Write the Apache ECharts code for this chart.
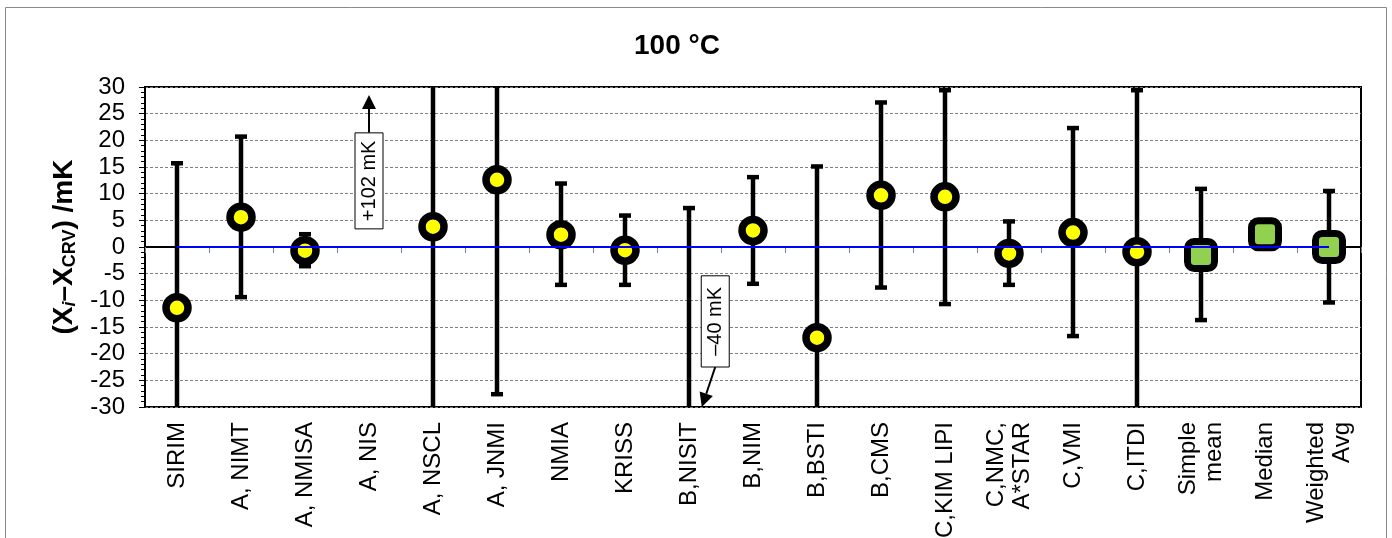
<!DOCTYPE html>
<html>
<head>
<meta charset="utf-8">
<script src="https://cdn.jsdelivr.net/npm/echarts@6/dist/echarts.min.js"></script>
<style>html,body{margin:0;padding:0;background:#fff}#chart{width:1392px;height:538px}</style>
</head>
<body>
<div id="chart"></div>
<script>
// participants + summary statistics
var categories = ['SIRIM', 'A, NIMT', 'A, NMISA', 'A, NIS', 'A, NSCL', 'A, JNMI', 'NMIA', 'KRISS', 'B,NISIT', 'B,NIM',
    'B,BSTI', 'B,CMS', 'C,KIM LIPI', 'C,NMC,\nA*STAR', 'C,VMI', 'C,ITDI', 'Simple\nmean', 'Median', 'Weighted\nAvg'];
var summaryNames = ['Simple\nmean', 'Median', 'Weighted\nAvg'];
// Xi - Xcrv in mK
var values = [-11.4, 5.6, -0.7, 102, 3.8, 12.6, 2.3, -0.6, -40, 3.1, -17.0, 9.7, 9.4, -1.2, 2.7, -0.9, -1.5, 2.4, 0.0];
// error bar ends (mK), null = none
var upper = [15.7, 20.7, 2.4, null, 43.8, 52.8, 11.9, 5.9, 7.3, 13.1, 15.1, 27.1, 29.4, 4.8, 22.3, 29.4, 10.9, null, 10.5];
var lower = [-38.5, -9.4, -3.6, null, -36.2, -27.6, -7.1, -7.1, -87.3, -6.9, -49.1, -7.6, -10.7, -7.1, -16.7, -31.2, -13.7, null, -10.4];
var refValue = 0;
var yTicks = { min: -30, max: 30, step: 5 };
// off-scale notes
var notes = [
    { cat: 'A, NIS', text: '+102 mK', boxTop: 21.4, boxBottom: 3.4, tip: 28.5, shift: 0, tipShift: 0 },
    { cat: 'B,NISIT', text: '\u201340 mK', boxTop: -5.4, boxBottom: -22.5, tip: -30, shift: 0.41, tipShift: 0.2 }
];

var labPts = [], sumPts = [], bars = [];
categories.forEach(function (c, i) {
    if (summaryNames.indexOf(c) >= 0) sumPts.push([i, values[i]]);
    else labPts.push([i, values[i]]);
    if (upper[i] != null) bars.push([i, upper[i], lower[i]]);
});

var chart = echarts.init(document.getElementById('chart'));
var font = 'Arial, "Liberation Sans", sans-serif';

chart.setOption({
    animation: false,
    title: {
        text: '100 \u00b0C',
        left: 672,
        top: 27,
        textAlign: 'center',
        textStyle: { fontFamily: font, fontSize: 28, fontWeight: 'bold', color: '#000' }
    },
    graphic: [{
        type: 'rect',
        shape: { x: 5.5, y: 7.5, width: 1381, height: 560 },
        style: { fill: null, stroke: '#888', lineWidth: 1 },
        silent: true
    }],
    grid: {
        left: 145, right: 31, top: 87, bottom: 131,
        outerBoundsMode: 'none',
        containLabel: false,
        show: true, borderColor: '#000', borderWidth: 2
    },
    xAxis: {
        type: 'category',
        data: categories,
        boundaryGap: true,
        axisLine: { lineStyle: { color: '#000', width: 2 } },
        axisTick: { show: true, interval: 0, length: 6, lineStyle: { color: '#808080' } },
        axisLabel: {
            interval: 0, rotate: 90, margin: 15, color: '#000',
            fontFamily: font, fontSize: 24, lineHeight: 26
        },
        splitLine: { show: false }
    },
    yAxis: {
        type: 'value',
        min: yTicks.min, max: yTicks.max, interval: yTicks.step,
        name: '{b|(X}{i|i}{b|\u2013X}{s|CRV}{b|) /mK}',
        nameLocation: 'middle',
        nameGap: 62,
        nameTextStyle: {
            rich: {
                b: { fontFamily: font, fontSize: 28, fontWeight: 'bold', color: '#000' },
                i: { fontFamily: font, fontSize: 18, fontWeight: 'bold', fontStyle: 'italic', color: '#000', verticalAlign: 'bottom', padding: [12, 0, 0, 0] },
                s: { fontFamily: font, fontSize: 18, fontWeight: 'bold', color: '#000', verticalAlign: 'bottom', padding: [12, 0, 0, 0] }
            }
        },
        axisLine: { show: true, lineStyle: { color: '#000', width: 2 } },
        axisTick: { show: true, length: 6, lineStyle: { color: '#000' } },
        minorTick: { show: true, splitNumber: 5, length: 4, lineStyle: { color: '#000' } },
        axisLabel: { color: '#000', fontFamily: font, fontSize: 24, margin: 20 },
        splitLine: { show: true, lineStyle: { color: '#808080', type: [3, 2], width: 1 } }
    },
    series: [
        {
            name: 'reference',
            type: 'line',
            data: [],
            z: 2,
            markLine: {
                silent: true,
                symbol: 'none',
                label: { show: false },
                lineStyle: { color: '#0000ff', width: 2, type: 'solid' },
                data: [[{ coord: [0, refValue] }, { coord: [categories.length - 1, refValue] }]]
            }
        },
        {
            name: 'uncertainty',
            type: 'custom',
            clip: true,
            z: 3,
            data: bars,
            encode: { x: 0, y: [1, 2] },
            renderItem: function (params, api) {
                var x = api.value(0);
                var p1 = api.coord([x, api.value(1)]);
                var p2 = api.coord([x, api.value(2)]);
                var cap = 6;
                var st = { stroke: '#000', lineWidth: 4.5 };
                return {
                    type: 'group',
                    children: [
                        { type: 'line', shape: { x1: p1[0], y1: p1[1], x2: p2[0], y2: p2[1] }, style: st },
                        { type: 'line', shape: { x1: p1[0] - cap, y1: p1[1], x2: p1[0] + cap, y2: p1[1] }, style: st },
                        { type: 'line', shape: { x1: p2[0] - cap, y1: p2[1], x2: p2[0] + cap, y2: p2[1] }, style: st }
                    ]
                };
            }
        },
        {
            name: 'labs',
            type: 'scatter',
            clip: true,
            z: 4,
            data: labPts,
            symbol: 'circle',
            symbolSize: 22,
            itemStyle: { color: '#ffff00', borderColor: '#000', borderWidth: 7.5, opacity: 1 }
        },
        {
            name: 'summary',
            type: 'scatter',
            clip: true,
            z: 4,
            data: sumPts,
            symbol: 'roundRect',
            symbolSize: 27,
            itemStyle: { color: '#92d050', borderColor: '#000', borderWidth: 7, opacity: 1 }
        },
        {
            name: 'notes',
            type: 'custom',
            z: 5,
            data: notes.map(function (n) { return [categories.indexOf(n.cat), n.boxTop]; }),
            renderItem: function (params, api) {
                var n = notes[params.dataIndex];
                var c = api.coord([api.value(0), 0]);
                var bw = api.size([1, 0])[0];
                var cx = c[0] + n.shift * bw;
                var tx = c[0] + n.tipShift * bw;
                var yTop = api.coord([0, n.boxTop])[1];
                var yBot = api.coord([0, n.boxBottom])[1];
                var yTip = api.coord([0, n.tip])[1];
                var w = 28;
                var sx = cx, sy = n.tip > n.boxTop ? yTop : yBot;
                var dx = tx - sx, dy = yTip - sy;
                var len = Math.sqrt(dx * dx + dy * dy), ux = dx / len, uy = dy / len;
                var hl = 14, hw = 7;
                var bx = tx - ux * hl, by = yTip - uy * hl;
                return {
                    type: 'group',
                    children: [
                        { type: 'line', shape: { x1: sx, y1: sy, x2: bx, y2: by }, style: { stroke: '#000', lineWidth: 2 } },
                        { type: 'polygon', shape: { points: [[tx, yTip], [bx - uy * hw, by + ux * hw], [bx + uy * hw, by - ux * hw]] }, style: { fill: '#000' } },
                        { type: 'rect', shape: { x: cx - w / 2, y: yTop, width: w, height: yBot - yTop }, style: { fill: '#fff', stroke: '#000', lineWidth: 1 } },
                        {
                            type: 'text', x: cx, y: (yTop + yBot) / 2, rotation: Math.PI / 2,
                            style: { text: n.text, fill: '#000', font: '20px ' + font, align: 'center', verticalAlign: 'middle' }
                        }
                    ]
                };
            }
        }
    ]
});
</script>
</body>
</html>
